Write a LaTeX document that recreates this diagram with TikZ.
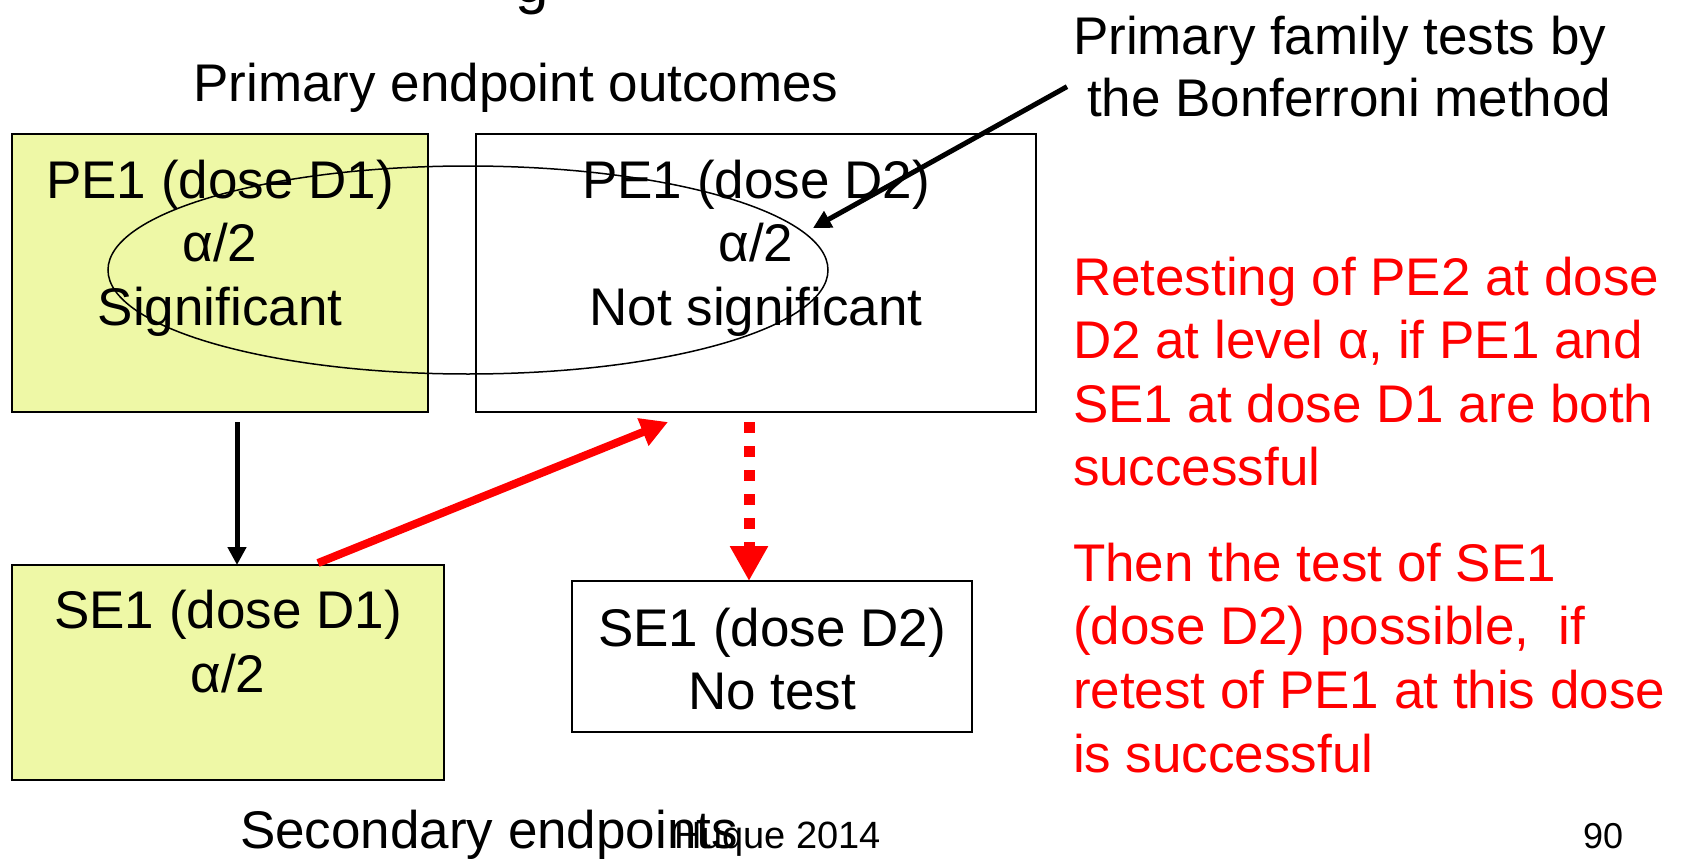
\documentclass[tikz,border=0pt]{standalone}
\usepackage{fontspec}
\setmainfont{Liberation Sans}
\usetikzlibrary{arrows.meta,shapes.geometric}
\definecolor{paleyellow}{RGB}{238,248,166}
\begin{document}
\begin{tikzpicture}[x=1pt,y=-1pt,
  every node/.style={inner sep=0pt,outer sep=0pt},
  txt/.style={font=\fontsize{53}{63.7}\selectfont,anchor=base},
  ltxt/.style={txt,anchor=base west},
  rtxt/.style={ltxt,text=red},
  box/.style={draw,line width=2.5pt,rectangle},
  ybox/.style={box,fill=paleyellow},
  blkarrow/.style={line width=5pt,-{Triangle[length=18pt,width=18pt]}},
  redarrow/.style={red,line width=8pt,-{Triangle[length=27pt,width=28pt]}},
  reddots/.style={red,line width=11pt,dash pattern=on 11pt off 13pt,-{Triangle[length=35pt,width=36pt]}}]
\useasboundingbox (0,0) rectangle (1682,859);

% title descender peeking in at the top
\node[font=\fontsize{60}{72}\selectfont,anchor=base] (ttl) at (532,3) {g};

% headings
\node[txt] (phead) at (516,101.5) {Primary endpoint outcomes};
\node[ltxt] (fam1) at (1073,54.5) {Primary family tests by};
\node[ltxt] (bon) at (1087,116.6) {the Bonferroni method};

% boxes
\node[ybox,minimum width=416pt,minimum height=278pt] (d1) at (220,273) {};
\node[box,minimum width=560pt,minimum height=278pt] (d2) at (756,273) {};
\node[ybox,minimum width=432pt,minimum height=215pt] (s1) at (228,672.5) {};
\node[box,minimum width=400pt,minimum height=151pt] (s2) at (772,656.5) {};

% box texts
\node[txt] (d1a) at (220,198) {PE1 (dose D1)};
\node[txt] (d1b) at (220,261.5) {α/2};
\node[txt] (d1c) at (220,325) {Significant};
\node[txt] (d2a) at (756,198) {PE1 (dose D2)};
\node[txt] (d2b) at (756,261.5) {α/2};
\node[txt] (d2c) at (756,325) {Not significant};
\node[txt] (s1a) at (228,628) {SE1 (dose D1)};
\node[txt] (s1b) at (228,692) {α/2};
\node[txt] (s2a) at (772,646) {SE1 (dose D2)};
\node[txt] (s2b) at (772,709) {No test};

% primary family
\node[draw,ellipse,line width=1.5pt,minimum width=720pt,minimum height=208pt] (fam) at (468,270) {};
\coordinate (famtip) at (813,228);

% red notes
\node[rtxt] (r1) at (1073,295) {Retesting of PE2 at dose};
\node[rtxt] (r2) at (1073,358.5) {D2 at level α, if PE1 and};
\node[rtxt] (r3) at (1073,422) {SE1 at dose D1 are both};
\node[rtxt] (r4) at (1073,485.5) {successful};
\node[rtxt] (r5) at (1073,581) {Then the test of SE1};
\node[rtxt] (r6) at (1073,644.5) {(dose D2) possible,\ \ if};
\node[rtxt] (r7) at (1073,708.5) {retest of PE1 at this dose};
\node[rtxt] (r8) at (1073,772.5) {is successful};

% footer
\node[ltxt] (sec) at (240,848) {Secondary endpoints};
\node[font=\fontsize{38}{45}\selectfont,anchor=base west] (auth) at (674,848) {Huque 2014};
\node[font=\fontsize{36}{43}\selectfont,anchor=base west] (pg) at (1583,848) {90};

% connectors
\draw[blkarrow] ([shift={(17,10)}]d1.south) -- ([shift={(9,0)}]s1.north);
\draw[redarrow] ([shift={(90,-2)}]s1.north) -- ([shift={(-88,10)}]d2.south);
\draw[reddots] ([shift={(-7,10)}]d2.south) -- ([shift={(-23,0)}]s2.north);
\draw[blkarrow] ([shift={(-20,-11)}]bon.west) -- (famtip);
\end{tikzpicture}
\end{document}
